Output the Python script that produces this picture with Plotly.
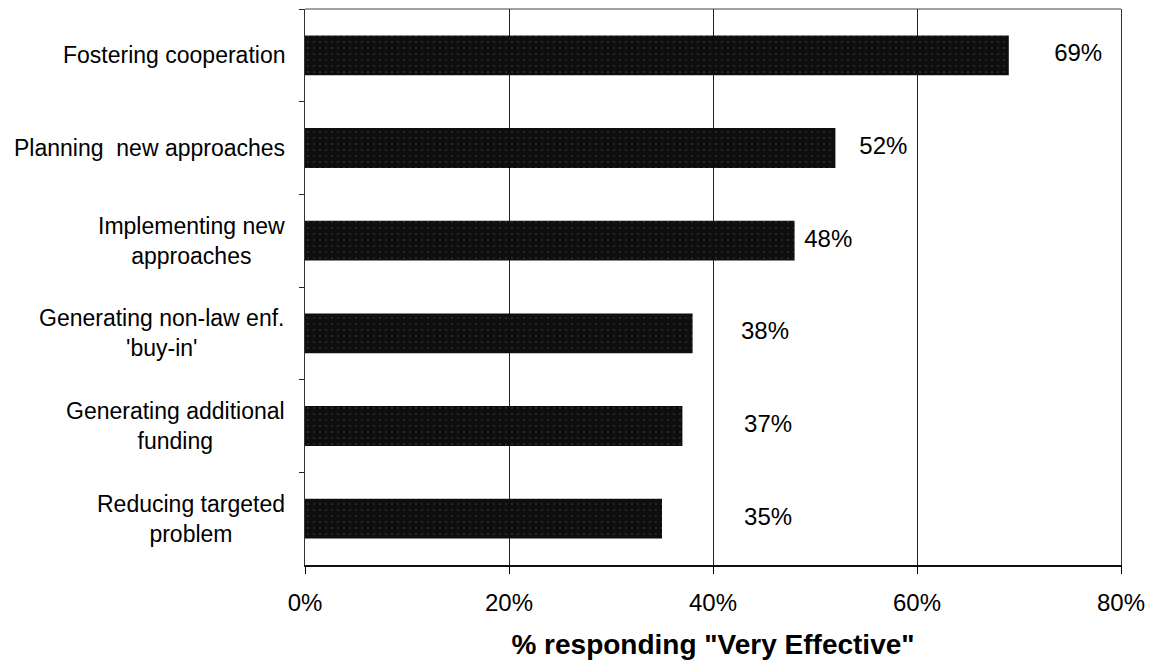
import plotly.graph_objects as go

# Survey results: share of respondents rating each outcome "Very Effective"
categories = [
    "Fostering cooperation",
    "Planning  new approaches",
    "Implementing new approaches",
    "Generating non-law enf. 'buy-in'",
    "Generating additional funding",
    "Reducing targeted problem",
]
category_labels = [
    "Fostering cooperation",
    "Planning\u00a0\u00a0new approaches",
    "Implementing new<br>approaches",
    "Generating non-law enf.<br>'buy-in'",
    "Generating additional<br>funding",
    "Reducing targeted<br>problem",
]
values = [69, 52, 48, 38, 37, 35]
x_ticks = [0, 20, 40, 60, 80]
x_tick_labels = ["0%", "20%", "40%", "60%", "80%"]

# x position (in %) of each value label
label_x = [75.8, 56.7, 51.3, 45.1, 45.4, 45.4]

FONT = "Liberation Sans, Arial, sans-serif"

fig = go.Figure()

fig.add_trace(go.Bar(
    x=values,
    y=categories,
    orientation="h",
    marker=dict(
        color="#0e0e0e",
        line=dict(width=0),
        pattern=dict(shape=".", fgcolor="#4a4a4a", bgcolor="#0e0e0e",
                     size=6, solidity=0.1),
    ),
    showlegend=False,
    hoverinfo="skip",
))

fig.add_trace(go.Scatter(
    x=label_x,
    y=categories,
    mode="text",
    text=[f"{v}%" for v in values],
    textposition="middle center",
    textfont=dict(family=FONT, size=24, color="#000"),
    showlegend=False,
    hoverinfo="skip",
))

for cat, lab in zip(categories, category_labels):
    fig.add_annotation(
        x=0, xref="paper", xanchor="right", xshift=-18,
        y=cat, yref="y", yanchor="middle",
        text=lab, align="center", showarrow=False,
        font=dict(family=FONT, size=23, color="#000"),
    )

# thin top border of the plot frame
fig.add_shape(type="line", xref="paper", yref="paper",
              x0=0, x1=1, y0=1, y1=1,
              line=dict(color="#444", width=1))

fig.update_layout(
    width=1155, height=671,
    margin=dict(l=305, r=34, t=9, b=106),
    paper_bgcolor="white",
    plot_bgcolor="white",
    bargap=0.57,
    font=dict(family=FONT, color="#000"),
)

fig.update_xaxes(
    range=[0, 80],
    tickmode="array", tickvals=x_ticks, ticktext=x_tick_labels,
    tickfont=dict(family=FONT, size=24, color="#000"),
    ticks="outside", ticklen=7, tickcolor="#000", tickwidth=1,
    showgrid=True, gridcolor="#222", gridwidth=1,
    showline=True, linecolor="#111", linewidth=2, mirror=False,
    zeroline=False,
    title=dict(text='<b>% responding "Very Effective"</b>',
               font=dict(family=FONT, size=28, color="#000"), standoff=20),
    ticklabelstandoff=8,
    fixedrange=True,
)

fig.update_yaxes(
    categoryorder="array", categoryarray=categories,
    autorange="reversed",
    showticklabels=False,
    ticks="outside", ticklen=5, tickcolor="#222", tickson="boundaries",
    showgrid=False,
    showline=True, linecolor="#333", linewidth=1, mirror=True,
    zeroline=False,
    fixedrange=True,
)

fig.write_html("out.html")
